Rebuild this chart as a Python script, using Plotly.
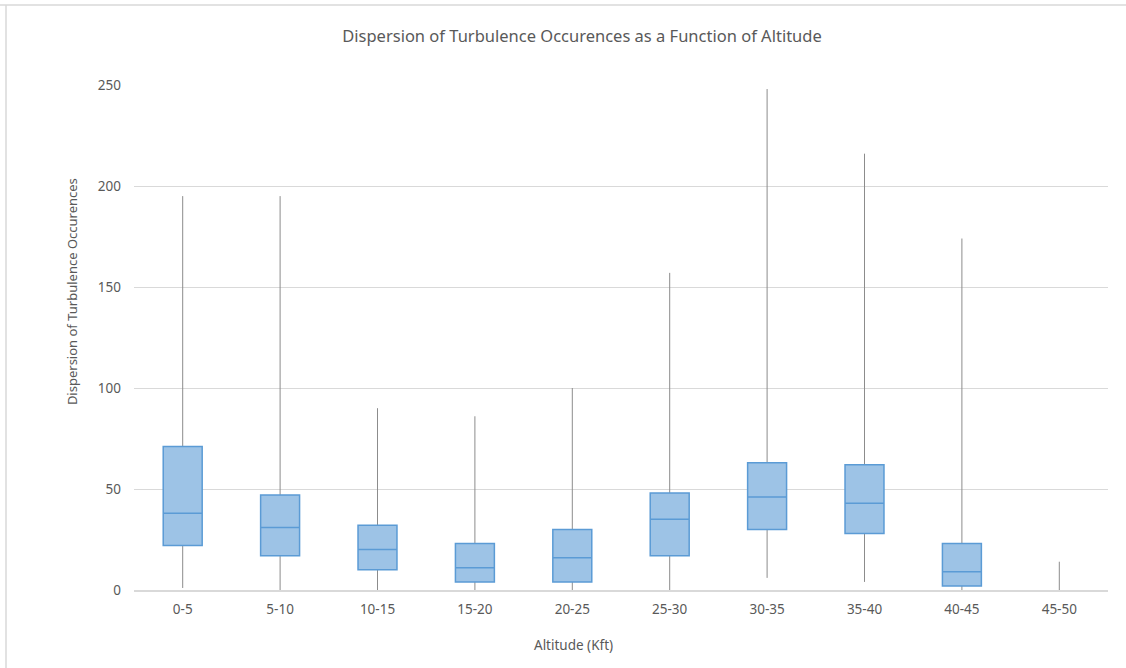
import plotly.graph_objects as go

# Altitude bands (thousands of feet)
altitudes = ["0-5", "5-10", "10-15", "15-20", "20-25", "25-30", "30-35", "35-40", "40-45", "45-50"]

# Five-number summaries of turbulence occurrence dispersion per band
minimum = [1, 0, 0, 0, 0, 0, 6, 4, 0, 0]
q1 = [22, 17, 10, 4, 4, 17, 30, 28, 2, 0]
median = [38, 31, 20, 11, 16, 35, 46, 43, 9, 0]
q3 = [71, 47, 32, 23, 30, 48, 63, 62, 23, 0]
maximum = [195, 195, 90, 86, 100, 157, 248, 216, 174, 14]

TEXT = "#595959"
GRID = "#D9D9D9"
FONT = "Noto Sans"

fig = go.Figure()

# Whiskers: full range in grey as a hairline-wide box, drawn underneath
fig.add_trace(go.Box(
    x=altitudes, q1=q1, median=median, q3=q3,
    lowerfence=minimum, upperfence=maximum,
    width=0.001, whiskerwidth=0,
    line=dict(color="#8C8C8C", width=1),
    fillcolor="rgba(0,0,0,0)",
    boxpoints=False, hoverinfo="skip", showlegend=False,
))

# Interquartile boxes with median line (bands with a non-empty box only)
keep = [i for i in range(len(altitudes)) if q3[i] > q1[i]]
fig.add_trace(go.Box(
    x=[altitudes[i] for i in keep],
    q1=[q1[i] for i in keep],
    median=[median[i] for i in keep],
    q3=[q3[i] for i in keep],
    lowerfence=[q1[i] for i in keep],
    upperfence=[q3[i] for i in keep],
    width=0.4, whiskerwidth=0,
    line=dict(color="#5B9BD5", width=1.5),
    fillcolor="#9DC3E6",
    boxpoints=False, showlegend=False,
))

fig.update_layout(
    width=1126, height=668,
    paper_bgcolor="white", plot_bgcolor="white",
    margin=dict(l=134, r=18, t=85, b=78),
    boxmode="overlay",
    font=dict(family=FONT, color=TEXT, size=13),
    title=dict(
        text="Dispersion of Turbulence Occurences as a Function of Altitude",
        x=582 / 1126, xanchor="center", xref="container",
        y=1 - 36 / 668, yanchor="middle", yref="container",
        font=dict(family=FONT, size=16.5, color=TEXT),
    ),
    xaxis=dict(
        type="category", categoryorder="array", categoryarray=altitudes,
        range=[-0.5, len(altitudes) - 0.5],
        showgrid=False, showline=True, linecolor=GRID, linewidth=1.5,
        layer="above traces",
        ticks="", tickfont=dict(size=13.5, color=TEXT),
        ticklabelstandoff=6,
    ),
    yaxis=dict(
        range=[0, 250], tickvals=[0, 50, 100, 150, 200, 250],
        showgrid=True, gridcolor=GRID, gridwidth=1,
        zeroline=False, showline=False, ticks="",
        tickfont=dict(size=13.5, color=TEXT), ticklabelstandoff=12,
    ),
    annotations=[
        dict(text="Altitude (Kft)", xref="paper", yref="paper",
             x=(573 - 134) / 974, y=(589.7 - 645) / 504.7,
             xanchor="center", yanchor="middle", showarrow=False,
             font=dict(family=FONT, size=13.5, color=TEXT)),
        dict(text="Dispersion of Turbulence Occurences", xref="paper", yref="paper",
             x=(72 - 134) / 974, y=(589.7 - 292) / 504.7, textangle=-90,
             xanchor="center", yanchor="middle", showarrow=False,
             font=dict(family=FONT, size=13, color=TEXT)),
    ],
    shapes=[
        dict(type="line", xref="paper", yref="paper",
             x0=(0 - 134) / 974, x1=(1126 - 134) / 974,
             y0=(589.7 - 5) / 504.7, y1=(589.7 - 5) / 504.7,
             line=dict(color="#D9D9D9", width=1.5)),
        dict(type="line", xref="paper", yref="paper",
             x0=(6 - 134) / 974, x1=(6 - 134) / 974,
             y0=(589.7 - 5) / 504.7, y1=(589.7 - 668) / 504.7,
             line=dict(color="#D9D9D9", width=1.5)),
    ],
)

fig.write_html("out.html")
